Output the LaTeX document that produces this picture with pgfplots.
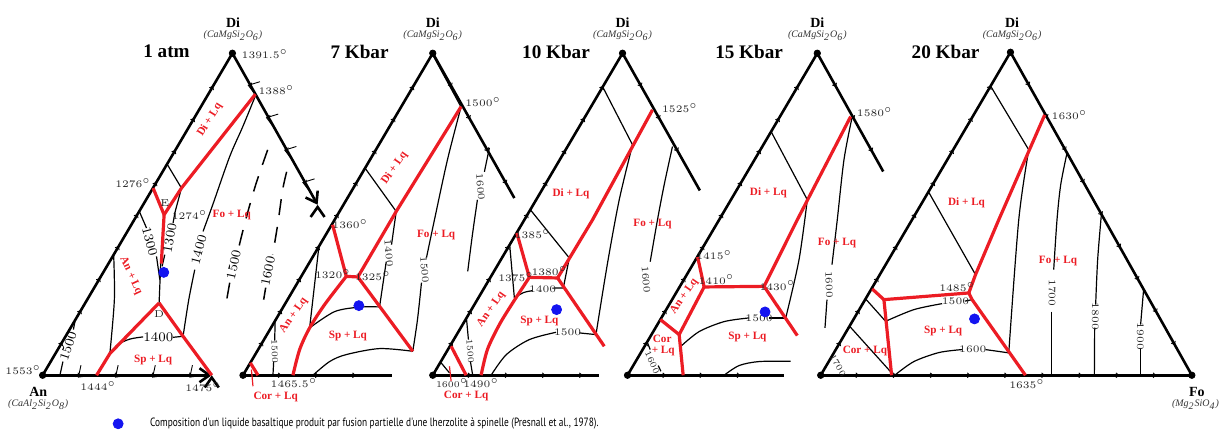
\documentclass[border=0pt]{standalone}
\usepackage{fontspec}
\usepackage{pgfplots}
\pgfplotsset{compat=1.18}
\usetikzlibrary{decorations.markings,arrows.meta}
\newfontfamily\tms{Liberation Serif}
\newfontfamily\legfont[FakeStretch=0.78]{PT Sans}
\definecolor{rd}{RGB}{236,28,36}
\definecolor{bd}{RGB}{20,20,240}
\tikzset{
  edge/.style={black, line width=1.3pt},
  tk/.style={postaction={decorate, decoration={markings,
      mark=between positions 18.6pt and -6pt step 18.6pt with
      {\draw[black, line width=0.45pt] (-1.0pt,1.2pt) -- (0.3pt,0pt) -- (-1.0pt,-1.2pt);}}}},
  rl/.style={rd, line width=1.6pt},
  bl/.style={black, line width=0.6pt},
  dl/.style={black, line width=0.75pt, dash pattern=on 8pt off 6pt},
  lab/.style={text=rd, font=\tms\bfseries\fontsize{5.6}{6}\selectfont, inner sep=0pt},
  num/.style={font=\fontsize{5}{6}\selectfont, inner sep=0.3pt, text=black!85},
  sml/.style={font=\fontsize{4.4}{5}\selectfont, inner sep=0.2pt, text=black!85},
  big/.style={font=\fontsize{6.6}{7}\selectfont, inner sep=0.3pt},
  ttl/.style={font=\tms\bfseries\fontsize{9.6}{10}\selectfont, inner sep=0pt},
  apx/.style={font=\tms\bfseries\fontsize{7}{8}\selectfont, inner sep=0pt},
  frm/.style={font=\tms\itshape\fontsize{5}{6}\selectfont, inner sep=0pt, text=black!80},
}
\begin{document}
\begin{tikzpicture}
\begin{axis}[width=609.5pt, height=220.5pt, scale only axis,
  xmin=0, xmax=1219, ymin=0, ymax=441, y dir=reverse,
  hide axis, clip=false]
\addplot[draw=none] coordinates {(0,0) (1219,441)};

% ---------------- 1 atm ----------------
\addplot[edge, tk] coordinates {(42.7,375.7) (232.7,53.3)};
\addplot[edge, tk, -{Straight Barb[length=5pt,width=7pt]}] coordinates {(232.7,53.3) (318,205)};
\addplot[edge, tk, -{Straight Barb[length=5pt,width=7pt]}] coordinates {(42.7,375.7) (212,375.7)};
\addplot[bl] coordinates {(166.7,163.3) (181.7,188.3)};
\addplot[bl] coordinates {(139.5,211.7) (146.7,228.3)};
\addplot[bl] coordinates {(156.7,256.7) (160,280)};
\addplot[bl] coordinates {(161,262) (159.3,303.3)};
\addplot[bl] coordinates {(181.7,188.3) (175,213.3) (173.3,223.3)};
\addplot[bl] coordinates {(165,255) (162.3,266.7)};
\addplot[bl, smooth] coordinates {(255.7,96) (243,127) (230,156.7) (213,205) (203.3,231.7)};
\addplot[bl, smooth] coordinates {(195,270) (189,300) (183.3,336.7)};
\addplot[bl, smooth] coordinates {(113.8,255) (114.5,300) (110,354)};
\addplot[bl, smooth] coordinates {(110,354) (118,345) (130,339.5) (143.3,337.3)};
\addplot[bl] coordinates {(173.3,337.7) (183.3,336.7)};
\addplot[bl] coordinates {(60,375.7) (63,362)};
\addplot[bl] coordinates {(73.5,330) (75,322)};
\addplot[dl, smooth] coordinates {(268,150) (256,185) (246,220) (239,248)};
\addplot[dl] coordinates {(230,283) (227,300)};
\addplot[dl, smooth] coordinates {(287,172) (283,190) (278,225) (273,255)};
\addplot[dl] coordinates {(266,288) (264,300)};
\addplot[rl] coordinates {(255.7,94.3) (181.7,188.3) (164.3,215)};
\addplot[rl] coordinates {(153.3,188.3) (164.3,215)};
\addplot[rl] coordinates {(164.3,215) (161.5,264)};
\addplot[rl] coordinates {(159.3,303.3) (110,354) (96.7,375.7)};
\addplot[rl] coordinates {(159.3,303.3) (183.3,336.7) (212,375.7)};
\node[ttl] at (166.7,51.7) {1 atm};
\node[apx] at (233.3,22.7) {Di};
\node[frm] at (233.3,36) {(CaMgSi\textsubscript{2}O\textsubscript{6})};
\node[num, anchor=west] at (241,54) {1391.5$^{\circ}$};
\node[num, anchor=west] at (258,90) {1388$^{\circ}$};
\node[num, anchor=east] at (152,183.3) {1276$^{\circ}$};
\node[num] at (165,203.3) {E};
\node[num, anchor=west] at (171,215) {1274$^{\circ}$};
\node[big, rotate=-75] at (150,241.7) {1300};
\node[big, rotate=80] at (170,238.3) {1300};
\node[big, rotate=75] at (199,250) {1400};
\node[big] at (158.5,337.5) {1400};
\node[num] at (159.3,314.3) {D};
\node[big, rotate=72] at (68.3,346.7) {1500};
\node[big, rotate=78] at (234,265) {1500};
\node[big, rotate=78] at (268.3,271.7) {1600};
\node[num] at (23.3,370.7) {1553$^{\circ}$};
\node[num] at (98.3,386.7) {1444$^{\circ}$};
\node[num] at (203.3,387.7) {1475$^{\circ}$};
\node[apx] at (38.3,392.7) {An};
\node[frm] at (38.3,405) {(CaAl\textsubscript{2}Si\textsubscript{2}O\textsubscript{8})};
\node[lab, rotate=58] at (210,120) {Di + Lq};
\node[lab] at (232,215) {Fo + Lq};
\node[lab, rotate=-65] at (131,276) {An + Lq};
\node[lab] at (153.3,360) {Sp + Lq};

% ---------------- 7 Kbar ----------------
\addplot[edge, tk] coordinates {(243.3,375.7) (433.3,53.3)};
\addplot[edge, tk] coordinates {(433.3,53.3) (515,198.3)};
\addplot[edge, tk] coordinates {(243.3,375.7) (392.3,375.7)};
\addplot[bl] coordinates {(433.3,55) (461,106)};
\addplot[bl] coordinates {(365.5,168.3) (396.7,211.7)};
\addplot[bl] coordinates {(396.7,211.7) (392,245)};
\addplot[bl] coordinates {(386.7,262) (380,307.3)};
\addplot[bl, smooth] coordinates {(380,307.3) (360,307.5) (335,312) (310,328.3)};
\addplot[bl] coordinates {(319.3,246.7) (310,328.3)};
\addplot[bl, smooth] coordinates {(461.7,106.7) (448,160) (435,220) (427,258)};
\addplot[bl, smooth] coordinates {(422,283) (418,320) (413.3,351.7)};
\addplot[bl] coordinates {(490,148) (485,172)};
\addplot[bl, smooth] coordinates {(478,200) (473,235) (468.3,271.7)};
\addplot[bl, smooth] coordinates {(313.3,375.7) (330,362) (346.7,355) (380,349) (413.3,351.7)};
\addplot[bl] coordinates {(273.3,375.7) (274,362)};
\addplot[bl] coordinates {(275,341) (275.5,321.7)};
\addplot[rl] coordinates {(461.7,106.7) (396.7,211.7) (358.3,277.3)};
\addplot[rl] coordinates {(358.3,277.3) (346.7,276.7) (333,225)};
\addplot[rl, smooth] coordinates {(346.7,276.7) (325,305) (310,328.3) (300,350) (293.3,375.7)};
\addplot[rl] coordinates {(358.3,277.3) (413.3,351.7)};
\addplot[rl] coordinates {(250.6,363.3) (258.3,375.7)};
\addplot[rd, line width=0.6pt] coordinates {(251.7,370) (253.3,386.7)};
\node[ttl] at (360,51.7) {7 Kbar};
\node[apx] at (433.3,22.7) {Di};
\node[frm] at (433.3,36) {(CaMgSi\textsubscript{2}O\textsubscript{6})};
\node[num, anchor=west] at (465,102.7) {1500$^{\circ}$};
\node[num] at (350.7,224) {1360$^{\circ}$};
\node[num] at (333.3,274) {1320$^{\circ}$};
\node[num] at (373.3,276) {1325$^{\circ}$};
\node[num, rotate=-85] at (389.3,253.3) {1400};
\node[num, rotate=-85] at (425,270) {1500};
\node[num, rotate=-85] at (481,187) {1600};
\node[sml, rotate=-88] at (275,351.7) {1500};
\node[num] at (294.3,384) {1465.5$^{\circ}$};
\node[lab] at (276,397.3) {Cor + Lq};
\node[lab, rotate=55] at (395,168.3) {Di + Lq};
\node[lab] at (436.7,235) {Fo + Lq};
\node[lab, rotate=55] at (294,316) {An + Lq};
\node[lab] at (348.3,336) {Sp + Lq};

% ---------------- 10 Kbar ----------------
\addplot[edge, tk] coordinates {(433.3,375.7) (623.3,53.3)};
\addplot[edge, tk] coordinates {(623.3,53.3) (700.7,190.7)};
\addplot[edge, tk] coordinates {(433.3,375.7) (600,375.7)};
\addplot[bl] coordinates {(603.3,86.7) (633.3,145)};
\addplot[bl, smooth] coordinates {(633.3,145) (620,200) (608,265) (596.7,335)};
\addplot[bl] coordinates {(531,210) (570,258.3) (564,288.3)};
\addplot[bl] coordinates {(510.3,245) (515,298.3)};
\addplot[bl, smooth] coordinates {(515,298.3) (524,293) (533,291)};
\addplot[bl] coordinates {(553,288.5) (564,288.3)};
\addplot[bl] coordinates {(596.7,335) (580,333.3)};
\addplot[bl, smooth] coordinates {(556.7,332.7) (530,340) (507,355) (491.7,375.7)};
\addplot[bl] coordinates {(467,318.3) (469,340)};
\addplot[bl] coordinates {(471,362) (473.3,375.7)};
\addplot[bl] coordinates {(441.7,363.3) (450,373.3)};
\addplot[bl, smooth] coordinates {(673.3,146.7) (665,185) (658.3,220) (651,262)};
\addplot[rl] coordinates {(653.3,110) (593.3,220) (558.3,278.3)};
\addplot[rl] coordinates {(558.3,278.3) (530,277.7) (517.5,233.3)};
\addplot[rl, smooth] coordinates {(530,277.7) (513.3,303.3) (500,325) (488,350) (481.7,375.7)};
\addplot[rl] coordinates {(558.3,278.3) (605,346.7)};
\addplot[rl] coordinates {(451.7,346.7) (466.7,375.7)};
\addplot[rd, line width=0.6pt] coordinates {(450,366.7) (451.7,381.7)};
\node[ttl] at (556.7,51.7) {10 Kbar};
\node[apx] at (623.3,22.7) {Di};
\node[frm] at (623.3,36) {(CaMgSi\textsubscript{2}O\textsubscript{6})};
\node[num, anchor=west] at (662,108.3) {1525$^{\circ}$};
\node[num] at (533.3,234) {1385$^{\circ}$};
\node[num] at (516.7,277.3) {1375$^{\circ}$};
\node[num] at (550,271.7) {1380$^{\circ}$};
\node[num] at (543.3,290) {1400};
\node[num] at (568.3,332.7) {1500};
\node[sml, rotate=-85] at (470.7,351.7) {1500};
\node[num, rotate=-85] at (646.7,280) {1600};
\node[num] at (481.7,384) {1490$^{\circ}$};
\node[sml] at (452.7,384) {1600$^{\circ}$};
\node[lab] at (466.7,396) {Cor + Lq};
\node[lab] at (571.7,194) {Di + Lq};
\node[lab] at (653.3,224) {Fo + Lq};
\node[lab, rotate=55] at (491.7,310) {An + Lq};
\node[lab] at (540,321.7) {Sp + Lq};

% ---------------- 15 Kbar ----------------
\addplot[edge, tk] coordinates {(628.3,375.7) (818.3,53.3)};
\addplot[edge, tk] coordinates {(818.3,53.3) (884.3,171.7)};
\addplot[edge, tk] coordinates {(628.3,375.7) (785,375.7)};
\addplot[bl] coordinates {(772,131.7) (808.3,200)};
\addplot[bl, smooth] coordinates {(808.3,200) (800,260) (786.7,318.3)};
\addplot[bl] coordinates {(786.7,318.3) (770,318.3)};
\addplot[bl, smooth] coordinates {(750,318.3) (725,322) (700,332) (681.7,346.7)};
\addplot[bl] coordinates {(680,335) (681.7,346.7)};
\addplot[bl, smooth] coordinates {(725,375.7) (740,366) (760,362) (791.7,361.7)};
\addplot[bl] coordinates {(648.3,343.3) (651,350)};
\addplot[bl] coordinates {(659,366) (661.7,371.7)};
\addplot[bl, smooth] coordinates {(853,118) (845,160) (838.3,220) (833,265)};
\addplot[bl] coordinates {(828,300) (826,328.3)};
\addplot[rl] coordinates {(851.7,116.7) (798.3,220) (765,286.7)};
\addplot[rl] coordinates {(765,286.7) (705,287.3) (698.5,257.3)};
\addplot[rl] coordinates {(705,287.3) (680,335) (684,375.7)};
\addplot[rl] coordinates {(680,335) (661.2,320)};
\addplot[rl] coordinates {(765,286.7) (798.3,336)};
\node[ttl] at (750,51.7) {15 Kbar};
\node[apx] at (818.3,22.7) {Di};
\node[frm] at (818.3,36) {(CaMgSi\textsubscript{2}O\textsubscript{6})};
\node[num, anchor=west] at (857,112.7) {1580$^{\circ}$};
\node[num] at (715,255) {1415$^{\circ}$};
\node[num] at (717.3,280) {1410$^{\circ}$};
\node[num] at (778.3,286) {1430$^{\circ}$};
\node[num] at (760,318.3) {1500};
\node[sml, rotate=-65] at (653,363) {1600};
\node[num, rotate=-88] at (830,285) {1600};
\node[lab] at (769.3,192.7) {Di + Lq};
\node[lab] at (838,243) {Fo + Lq};
\node[lab, rotate=55] at (685,296.7) {An + Lq};
\node[lab] at (748.3,337.3) {Sp + Lq};
\node[lab] at (663,339) {Cor};
\node[lab] at (664,351.5) {+ Lq};

% ---------------- 20 Kbar ----------------
\addplot[edge, tk] coordinates {(821.7,375.7) (1011.7,52.3)};
\addplot[edge, tk] coordinates {(1011.7,52.3) (1193.3,375.7)};
\addplot[edge, tk] coordinates {(821.7,375.7) (1193.3,375.7)};
\addplot[bl] coordinates {(991.7,86) (1030,150)};
\addplot[bl, smooth] coordinates {(1030,150) (1020,220) (1010,353.3)};
\addplot[bl] coordinates {(930,192.7) (976.7,275)};
\addplot[bl] coordinates {(973.3,300) (966,301.5)};
\addplot[bl, smooth] coordinates {(943.3,304) (915,310) (886.7,321.7)};
\addplot[bl] coordinates {(866.7,299.3) (886.7,321.7)};
\addplot[bl] coordinates {(850.7,326.7) (892.7,373.3)};
\addplot[bl, smooth] coordinates {(896.7,375) (915,362) (940,353) (963,350)};
\addplot[bl] coordinates {(986.7,350) (1010,353.3)};
\addplot[bl, smooth] coordinates {(1068.3,153.3) (1062,185) (1058.3,220) (1055,270)};
\addplot[bl] coordinates {(1052.7,312) (1052.7,375.7)};
\addplot[bl, smooth] coordinates {(1102.7,215) (1099,260) (1097,305)};
\addplot[bl] coordinates {(1096,328) (1095.7,375.7)};
\addplot[bl] coordinates {(1145,290) (1142,325)};
\addplot[bl] coordinates {(1141.7,348) (1141.7,375.7)};
\addplot[rl] coordinates {(1046,115) (1000,220) (976.7,275) (970,293.3)};
\addplot[rl] coordinates {(970,293.3) (885,300) (873.3,289.3)};
\addplot[rl] coordinates {(885,300) (892.7,375.7)};
\addplot[rl] coordinates {(970,293.3) (973.3,300) (1026.7,375.7)};
\node[ttl] at (946.7,51.7) {20 Kbar};
\node[apx] at (1013.3,22.7) {Di};
\node[frm] at (1013.3,36) {(CaMgSi\textsubscript{2}O\textsubscript{6})};
\node[num, anchor=west] at (1052,115) {1630$^{\circ}$};
\node[num] at (958.3,287.3) {1485$^{\circ}$};
\node[num] at (956.7,301.7) {1500};
\node[num] at (974,350) {1600};
\node[num] at (1028.3,384.3) {1635$^{\circ}$};
\node[num, rotate=-90] at (1053.3,293.3) {1700};
\node[num, rotate=-90] at (1096.7,316.7) {1800};
\node[num, rotate=-90] at (1141.7,336.7) {1900};
\node[sml, rotate=-60] at (839,366) {1700};
\node[lab] at (967.7,203.3) {Di + Lq};
\node[lab] at (1059.3,261.7) {Fo + Lq};
\node[lab] at (944.3,331.7) {Sp + Lq};
\node[lab] at (866,351) {Cor + Lq};
\node[apx] at (1198.3,392.7) {Fo};
\node[frm] at (1197,405) {(Mg\textsubscript{2}SiO\textsubscript{4})};

% corner points and melt compositions
\addplot[only marks, mark=*, mark size=1.6pt, black] coordinates {
  (42.7,375.7) (232.7,53.3) (243.3,375.7) (433.3,53.3) (433.3,375.7) (623.3,53.3)
  (628.3,375.7) (818.3,53.3) (821.7,375.7) (1011.7,52.3) (1193.3,375.7)};
\addplot[only marks, mark=*, mark size=2.5pt, bd] coordinates {
  (164,272.7) (359.3,306) (557.3,310) (766,312.3) (975.7,319.3) (118.3,424.3)};
\node[anchor=west, inner sep=0pt, font=\legfont\fontsize{6}{7}\selectfont] at (150,424.3)
  {Composition d'un liquide basaltique produit par fusion partielle d'une lherzolite à spinelle (Presnall et al., 1978).};
\end{axis}
\end{tikzpicture}
\end{document}
